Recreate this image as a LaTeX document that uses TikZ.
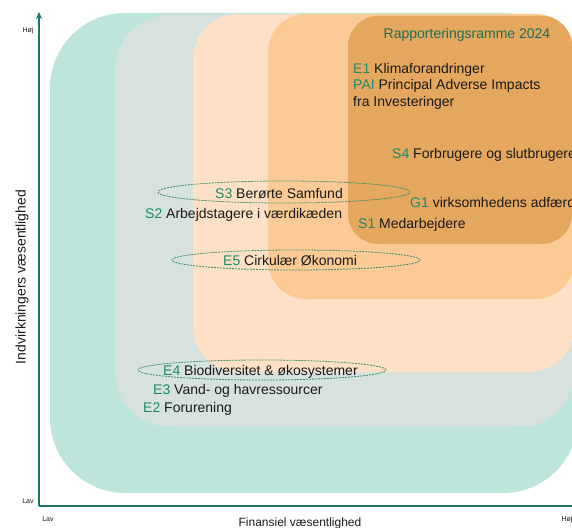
\documentclass[tikz,border=0pt]{standalone}
\usepackage{fontspec}
\setmainfont{Liberation Sans}
\usetikzlibrary{shapes.geometric,arrows.meta}
\definecolor{cTeal}{HTML}{BDE5DC}
\definecolor{cGrey}{HTML}{D7E1DE}
\definecolor{cPeach}{HTML}{FDE0C5}
\definecolor{cMid}{HTML}{FCCA95}
\definecolor{cDark}{HTML}{E5A75E}
\definecolor{cAxis}{HTML}{1D7468}
\definecolor{cCode}{HTML}{1F8A6B}
\definecolor{cHead}{HTML}{1E6E58}
\definecolor{cTxt}{HTML}{1A1A1A}
\definecolor{cDash}{HTML}{3E8E6A}
\tikzset{
  band/.style={draw=none},
  lbl/.style={anchor=base west, inner sep=0pt, text=cTxt, font=\fontsize{14}{16}\selectfont},
  ax/.style={anchor=base, inner sep=0pt, text=cTxt, font=\fontsize{7}{8}\selectfont},
  ring/.style={ellipse, draw=cDash, line width=0.8pt, dash pattern=on 2pt off 1pt, inner sep=0pt},
  axline/.style={draw=cAxis, line width=1.8pt},
}
\newcommand{\cd}[1]{\textcolor{cCode}{#1}}
\begin{document}
\begin{tikzpicture}[x=1pt,y=-1pt]
\useasboundingbox (0,0) rectangle (572,527);
\clip (0,0) rectangle (572,527);
\fill[white] (0,0) rectangle (572,527);
% bands
\fill[cTeal, rounded corners=75pt] (50,13) rectangle (578,493);
\fill[cGrey, rounded corners=55pt] (115,15) rectangle (574,427);
\fill[cPeach, rounded corners=45pt] (193,14) rectangle (574,372);
\fill[cMid, rounded corners=38pt] (268,14) rectangle (574,299);
\fill[cDark, rounded corners=30pt] (348,16) rectangle (572,244);
% axes
\coordinate (org) at (39,506);
\coordinate (ytop) at (39,12);
\coordinate (xend) at (585,506);
\draw[axline, -{Stealth[length=7pt,width=6pt]}] (org) -- (ytop);
\draw[axline] (org) -- (xend);
\node[ax] (yhi) at (28,33) {Høj};
\node[ax] (ylo) at (28,503) {Lav};
\node[ax] (xlo) at (48,521) {Lav};
\node[ax] (xhi) at (567,521) {Høj};
\node[anchor=base, inner sep=0pt, text=cTxt, font=\fontsize{12}{14}\selectfont] (xlab) at (300,526) {Finansiel væsentlighed};
\node[rotate=90, inner sep=0pt, text=cTxt, font=\fontsize{14}{16}\selectfont] (ylab) at (22,277) {Indvirkningers væsentlighed};
% ellipses
\node[ring, minimum width=252pt, minimum height=22pt] (r3) at (284,192) {};
\node[ring, minimum width=248pt, minimum height=20pt] (r5) at (296,260) {};
\node[ring, minimum width=248pt, minimum height=20pt] (r4) at (262,370) {};
% texts
\node[anchor=base, inner sep=0pt, text=cHead, font=\fontsize{14}{16}\selectfont] (head) at (467,38) {Rapporteringsramme 2024};
\node[lbl] (e1) at (353,73) {\cd{E1} Klimaforandringer};
\node[lbl] (pai) at (353,89) {\cd{PAI} Principal Adverse Impacts};
\node[lbl] (fra) at (353,106) {fra Investeringer};
\node[lbl] (s4) at (392,158) {\cd{S4} Forbrugere og slutbrugere};
\node[lbl] (s3) at (215,198) {\cd{S3} Berørte Samfund};
\node[lbl] (s2) at (145,218) {\cd{S2} Arbejdstagere i værdikæden};
\node[lbl] (g1) at (410,207) {\cd{G1} virksomhedens adfærd};
\node[lbl] (s1) at (358,228) {\cd{S1} Medarbejdere};
\node[lbl] (e5) at (223,265) {\cd{E5} Cirkulær Økonomi};
\node[lbl] (e4) at (163,375) {\cd{E4} Biodiversitet \& økosystemer};
\node[lbl] (e3) at (153,394) {\cd{E3} Vand- og havressourcer};
\node[lbl] (e2) at (143,412) {\cd{E2} Forurening};
\end{tikzpicture}
\end{document}
